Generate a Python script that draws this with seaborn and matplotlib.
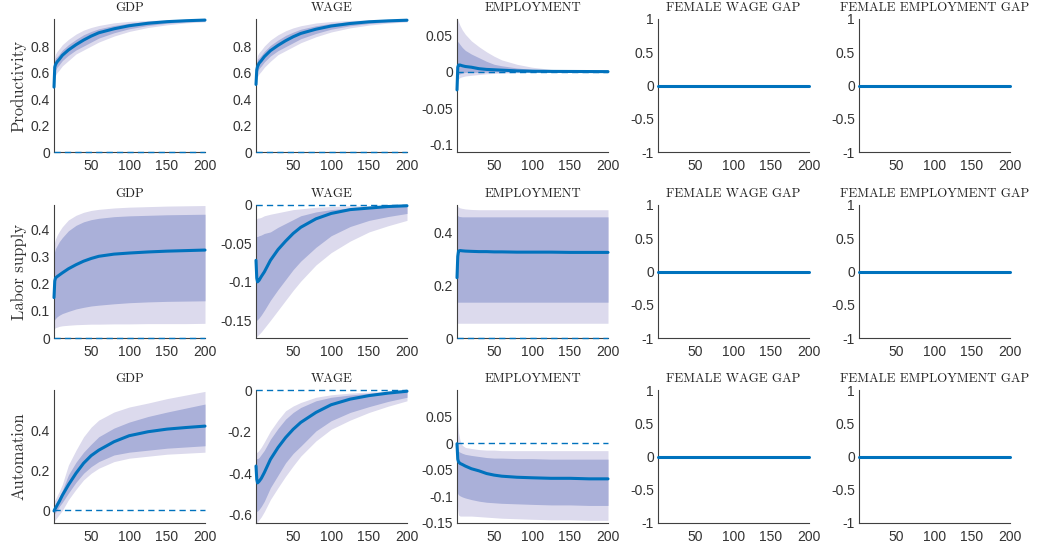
import matplotlib
matplotlib.use("Agg")
import matplotlib.pyplot as plt
import numpy as np
import pandas as pd
import seaborn as sns

# ---------------------------------------------------------------------------
# Impulse responses: posterior median with 68% and 90% credible bands
# ---------------------------------------------------------------------------
horizon = [1, 2, 3, 5, 8, 12, 20, 30, 40, 50, 60, 80, 100, 125, 150, 175, 200]

shocks = ["Productivity", "Labor supply", "Automation"]
variables = ["GDP", "WAGE", "EMPLOYMENT", "FEMALE WAGE GAP", "FEMALE EMPLOYMENT GAP"]

# Productivity shock
prod_gdp_med = [0.49, 0.64, 0.66, 0.68, 0.70, 0.73, 0.77, 0.81, 0.845, 0.875, 0.90, 0.93, 0.953, 0.972, 0.984, 0.991, 0.996]
prod_gdp_lo68 = [0.47, 0.60, 0.62, 0.64, 0.66, 0.69, 0.73, 0.77, 0.80, 0.83, 0.86, 0.90, 0.93, 0.955, 0.972, 0.982, 0.988]
prod_gdp_hi68 = [0.51, 0.69, 0.71, 0.72, 0.74, 0.77, 0.81, 0.85, 0.885, 0.91, 0.93, 0.955, 0.972, 0.985, 0.992, 0.996, 0.998]
prod_gdp_lo90 = [0.45, 0.56, 0.58, 0.60, 0.62, 0.65, 0.69, 0.74, 0.77, 0.80, 0.83, 0.875, 0.91, 0.94, 0.96, 0.975, 0.983]
prod_gdp_hi90 = [0.53, 0.72, 0.74, 0.76, 0.78, 0.81, 0.85, 0.89, 0.92, 0.94, 0.955, 0.975, 0.986, 0.993, 0.997, 0.999, 1.0]

prod_wage_med = [0.51, 0.62, 0.645, 0.67, 0.69, 0.72, 0.765, 0.805, 0.84, 0.87, 0.895, 0.927, 0.951, 0.970, 0.983, 0.990, 0.995]
prod_wage_lo68 = [0.49, 0.58, 0.61, 0.63, 0.65, 0.68, 0.725, 0.765, 0.795, 0.825, 0.855, 0.895, 0.927, 0.953, 0.970, 0.981, 0.987]
prod_wage_hi68 = [0.53, 0.67, 0.70, 0.71, 0.73, 0.76, 0.805, 0.845, 0.88, 0.905, 0.927, 0.953, 0.971, 0.984, 0.991, 0.995, 0.998]
prod_wage_lo90 = [0.47, 0.55, 0.57, 0.59, 0.61, 0.64, 0.685, 0.735, 0.765, 0.795, 0.825, 0.87, 0.906, 0.937, 0.958, 0.973, 0.982]
prod_wage_hi90 = [0.55, 0.70, 0.73, 0.75, 0.77, 0.80, 0.845, 0.885, 0.915, 0.937, 0.953, 0.974, 0.985, 0.993, 0.997, 0.999, 1.0]

prod_emp_med = [-0.025, 0.006, 0.009, 0.009, 0.008, 0.007, 0.006, 0.004, 0.003, 0.0025, 0.002, 0.001, 0.0006, 0.0003, 0.0002, 0.0001, 0.0]
prod_emp_lo68 = [-0.028, -0.006, -0.004, -0.003, -0.002, -0.001, -0.001, -0.001, -0.0008, -0.0006, -0.0005, -0.0004, -0.0003, -0.0002, -0.0001, -0.0001, -0.0001]
prod_emp_hi68 = [0.041, 0.041, 0.040, 0.037, 0.033, 0.029, 0.024, 0.019, 0.014, 0.010, 0.008, 0.005, 0.003, 0.0015, 0.001, 0.0006, 0.0004]
prod_emp_lo90 = [-0.035, -0.012, -0.010, -0.008, -0.007, -0.006, -0.005, -0.004, -0.003, -0.0025, -0.002, -0.0015, -0.001, -0.0007, -0.0005, -0.0004, -0.0003]
prod_emp_hi90 = [0.072, 0.071, 0.068, 0.063, 0.057, 0.051, 0.042, 0.034, 0.027, 0.021, 0.016, 0.010, 0.006, 0.003, 0.0018, 0.001, 0.0006]

# Labor supply shock
lab_gdp_med = [0.149, 0.21, 0.221, 0.226, 0.232, 0.240, 0.255, 0.270, 0.283, 0.293, 0.301, 0.309, 0.313, 0.317, 0.320, 0.322, 0.324]
lab_gdp_lo68 = [0.063, 0.068, 0.072, 0.078, 0.084, 0.090, 0.098, 0.107, 0.113, 0.118, 0.121, 0.126, 0.130, 0.133, 0.135, 0.136, 0.137]
lab_gdp_hi68 = [0.31, 0.32, 0.33, 0.34, 0.355, 0.37, 0.395, 0.415, 0.428, 0.436, 0.441, 0.447, 0.45, 0.452, 0.454, 0.455, 0.456]
lab_gdp_lo90 = [0.034, 0.036, 0.038, 0.040, 0.043, 0.045, 0.047, 0.049, 0.050, 0.051, 0.051, 0.052, 0.052, 0.053, 0.053, 0.053, 0.054]
lab_gdp_hi90 = [0.345, 0.355, 0.365, 0.378, 0.393, 0.41, 0.435, 0.452, 0.463, 0.47, 0.474, 0.479, 0.482, 0.484, 0.486, 0.487, 0.488]

lab_wage_med = [-0.072, -0.095, -0.100, -0.098, -0.093, -0.087, -0.072, -0.058, -0.047, -0.037, -0.029, -0.018, -0.011, -0.006, -0.004, -0.002, -0.001]
lab_wage_lo68 = [-0.150, -0.150, -0.149, -0.147, -0.143, -0.137, -0.124, -0.110, -0.097, -0.084, -0.073, -0.055, -0.040, -0.028, -0.020, -0.015, -0.011]
lab_wage_hi68 = [-0.041, -0.041, -0.041, -0.040, -0.039, -0.037, -0.035, -0.029, -0.024, -0.019, -0.014, -0.009, -0.006, -0.004, -0.003, -0.002, -0.002]
lab_wage_lo90 = [-0.172, -0.171, -0.170, -0.168, -0.165, -0.160, -0.150, -0.137, -0.124, -0.111, -0.099, -0.078, -0.062, -0.047, -0.035, -0.027, -0.020]
lab_wage_hi90 = [-0.018, -0.018, -0.017, -0.017, -0.016, -0.014, -0.012, -0.010, -0.008, -0.006, -0.005, -0.003, -0.002, -0.001, -0.001, -0.0005, -0.0003]

lab_emp_med = [0.229, 0.31, 0.330, 0.332, 0.331, 0.330, 0.329, 0.328, 0.328, 0.327, 0.327, 0.326, 0.326, 0.326, 0.325, 0.325, 0.325]
lab_emp_lo68 = [0.136, 0.136, 0.136, 0.136, 0.136, 0.136, 0.136, 0.136, 0.136, 0.136, 0.136, 0.136, 0.136, 0.136, 0.136, 0.136, 0.136]
lab_emp_hi68 = [0.47, 0.465, 0.462, 0.461, 0.460, 0.460, 0.460, 0.460, 0.460, 0.460, 0.460, 0.460, 0.460, 0.460, 0.460, 0.460, 0.460]
lab_emp_lo90 = [0.056, 0.056, 0.056, 0.056, 0.056, 0.056, 0.056, 0.056, 0.056, 0.056, 0.056, 0.056, 0.056, 0.056, 0.056, 0.056, 0.056]
lab_emp_hi90 = [0.505, 0.50, 0.497, 0.494, 0.492, 0.490, 0.488, 0.487, 0.487, 0.487, 0.487, 0.487, 0.487, 0.487, 0.487, 0.487, 0.487]

# Automation shock
auto_gdp_med = [-0.003, 0.005, 0.011, 0.025, 0.045, 0.075, 0.127, 0.185, 0.235, 0.273, 0.300, 0.342, 0.372, 0.392, 0.405, 0.413, 0.420]
auto_gdp_lo68 = [-0.02, -0.015, -0.01, 0.0, 0.02, 0.04, 0.086, 0.14, 0.185, 0.218, 0.243, 0.276, 0.290, 0.300, 0.310, 0.316, 0.322]
auto_gdp_hi68 = [0.02, 0.025, 0.031, 0.045, 0.067, 0.10, 0.177, 0.24, 0.29, 0.33, 0.367, 0.41, 0.44, 0.468, 0.49, 0.51, 0.53]
auto_gdp_lo90 = [-0.055, -0.05, -0.045, -0.035, -0.02, 0.0, 0.053, 0.105, 0.152, 0.185, 0.21, 0.243, 0.26, 0.27, 0.28, 0.285, 0.29]
auto_gdp_hi90 = [0.045, 0.05, 0.057, 0.072, 0.095, 0.13, 0.226, 0.30, 0.367, 0.415, 0.45, 0.49, 0.515, 0.535, 0.557, 0.575, 0.593]

auto_wage_med = [-0.366, -0.43, -0.447, -0.44, -0.425, -0.397, -0.334, -0.277, -0.229, -0.189, -0.156, -0.108, -0.071, -0.044, -0.027, -0.015, -0.006]
auto_wage_lo68 = [-0.584, -0.584, -0.582, -0.575, -0.56, -0.535, -0.47, -0.41, -0.35, -0.305, -0.27, -0.197, -0.148, -0.108, -0.08, -0.055, -0.035]
auto_wage_hi68 = [-0.326, -0.33, -0.33, -0.325, -0.31, -0.29, -0.237, -0.185, -0.14, -0.108, -0.084, -0.052, -0.035, -0.024, -0.016, -0.01, -0.006]
auto_wage_lo90 = [-0.64, -0.638, -0.635, -0.625, -0.61, -0.585, -0.527, -0.47, -0.415, -0.365, -0.318, -0.245, -0.189, -0.145, -0.108, -0.078, -0.052]
auto_wage_hi90 = [-0.30, -0.30, -0.298, -0.29, -0.275, -0.25, -0.197, -0.145, -0.10, -0.077, -0.06, -0.035, -0.023, -0.015, -0.01, -0.006, -0.003]

auto_emp_med = [-0.001, -0.03, -0.035, -0.038, -0.040, -0.043, -0.048, -0.052, -0.057, -0.060, -0.062, -0.064, -0.065, -0.066, -0.066, -0.067, -0.067]
auto_emp_lo68 = [-0.09, -0.095, -0.097, -0.099, -0.101, -0.103, -0.106, -0.109, -0.111, -0.112, -0.113, -0.114, -0.115, -0.116, -0.116, -0.117, -0.117]
auto_emp_hi68 = [0.0, -0.01, -0.015, -0.017, -0.019, -0.021, -0.023, -0.025, -0.027, -0.028, -0.028, -0.029, -0.029, -0.03, -0.03, -0.03, -0.03]
auto_emp_lo90 = [-0.102, -0.125, -0.135, -0.137, -0.137, -0.137, -0.137, -0.138, -0.139, -0.140, -0.141, -0.142, -0.143, -0.144, -0.144, -0.145, -0.145]
auto_emp_hi90 = [0.085, 0.04, 0.02, 0.005, -0.004, -0.008, -0.010, -0.012, -0.013, -0.013, -0.014, -0.014, -0.014, -0.014, -0.014, -0.014, -0.014]

# Gender gaps do not respond to any of the shocks
gap_horizon = [1, 200]
female_wage_gap = [0.0, 0.0]
female_emp_gap = [0.0, 0.0]

# Axis ranges and tick marks
x_ticks = [50, 100, 150, 200]
ylims = [
    [(0, 1.004), (0, 1.004), (-0.11, 0.072), (-1, 1), (-1, 1)],
    [(0, 0.49), (-0.173, 0), (0, 0.505), (-1, 1), (-1, 1)],
    [(-0.063, 0.6), (-0.64, 0), (-0.15, 0.1), (-1, 1), (-1, 1)],
]
yticks = [
    [[0, 0.2, 0.4, 0.6, 0.8], [0, 0.2, 0.4, 0.6, 0.8], [-0.1, -0.05, 0, 0.05], [-1, -0.5, 0, 0.5, 1], [-1, -0.5, 0, 0.5, 1]],
    [[0, 0.1, 0.2, 0.3, 0.4], [-0.15, -0.1, -0.05, 0], [0, 0.2, 0.4], [-1, -0.5, 0, 0.5, 1], [-1, -0.5, 0, 0.5, 1]],
    [[0, 0.2, 0.4], [-0.6, -0.4, -0.2, 0], [-0.15, -0.1, -0.05, 0, 0.05], [-1, -0.5, 0, 0.5, 1], [-1, -0.5, 0, 0.5, 1]],
]

responses = [
    [
        (prod_gdp_med, prod_gdp_lo68, prod_gdp_hi68, prod_gdp_lo90, prod_gdp_hi90),
        (prod_wage_med, prod_wage_lo68, prod_wage_hi68, prod_wage_lo90, prod_wage_hi90),
        (prod_emp_med, prod_emp_lo68, prod_emp_hi68, prod_emp_lo90, prod_emp_hi90),
    ],
    [
        (lab_gdp_med, lab_gdp_lo68, lab_gdp_hi68, lab_gdp_lo90, lab_gdp_hi90),
        (lab_wage_med, lab_wage_lo68, lab_wage_hi68, lab_wage_lo90, lab_wage_hi90),
        (lab_emp_med, lab_emp_lo68, lab_emp_hi68, lab_emp_lo90, lab_emp_hi90),
    ],
    [
        (auto_gdp_med, auto_gdp_lo68, auto_gdp_hi68, auto_gdp_lo90, auto_gdp_hi90),
        (auto_wage_med, auto_wage_lo68, auto_wage_hi68, auto_wage_lo90, auto_wage_hi90),
        (auto_emp_med, auto_emp_lo68, auto_emp_hi68, auto_emp_lo90, auto_emp_hi90),
    ],
]

# ---------------------------------------------------------------------------
# Styling
# ---------------------------------------------------------------------------
sns.set_theme(style="white")
plt.rcParams["font.family"] = ["Liberation Sans", "DejaVu Sans"]
plt.rcParams["axes.unicode_minus"] = False

LINE = "#0072BD"
BAND68 = "#AAB0D9"
BAND90 = "#DCDAED"
AXIS = "#404040"
SERIF = "cmr10"

W, H = 1039, 550
fig = plt.figure(figsize=(W / 100, H / 100), dpi=100)

col_left = [54, 256, 457, 658, 859]
row_top = [19, 205, 390]
panel_w, panel_h = 151, 133


def fmt(v):
    return f"{v:g}"


for r, shock in enumerate(shocks):
    for c, var in enumerate(variables):
        ax = fig.add_axes([col_left[c] / W, 1 - (row_top[r] + panel_h) / H,
                           panel_w / W, panel_h / H])

        ax.axhline(0, color=LINE, lw=1.0, ls=(0, (4.5, 3)), zorder=3, clip_on=False)

        if c < 3:
            med, lo68, hi68, lo90, hi90 = responses[r][c]
            ax.fill_between(horizon, lo90, hi90, color=BAND90, lw=0, zorder=1)
            ax.fill_between(horizon, lo68, hi68, color=BAND68, lw=0, zorder=1.5)
            df = pd.DataFrame({"h": horizon, "v": med})
        else:
            gap = female_wage_gap if c == 3 else female_emp_gap
            df = pd.DataFrame({"h": gap_horizon, "v": gap})

        sns.lineplot(data=df, x="h", y="v", ax=ax, color=LINE, lw=2.2,
                     zorder=4, clip_on=False)

        ax.set_xlim(1, 200)
        ax.set_ylim(*ylims[r][c])
        ax.set_xticks(x_ticks)
        ax.set_xticklabels([fmt(v) for v in x_ticks])
        ax.set_yticks(yticks[r][c])
        ax.set_yticklabels([fmt(v) for v in yticks[r][c]])

        ax.set_xlabel("")
        ax.set_ylabel("")
        for side in ("top", "right"):
            ax.spines[side].set_visible(False)
        for side in ("left", "bottom"):
            ax.spines[side].set_color(AXIS)
            ax.spines[side].set_linewidth(0.8)
            ax.spines[side].set_zorder(2.5)
        ax.tick_params(axis="both", direction="in", length=3, width=0.7,
                       color=AXIS, labelcolor="#333333", labelsize=10)
        ax.tick_params(axis="x", pad=5)
        ax.tick_params(axis="y", pad=3)
        ax.grid(False)

        ax.set_title(var, family=SERIF, fontsize=9.3, color="#222222", pad=5.5)

        if c == 0:
            ax.set_ylabel(shock, family=SERIF, fontsize=12, color="#333333")
            ax.yaxis.set_label_coords(-0.18, 0.5)

fig.savefig("out.png", dpi=100)
